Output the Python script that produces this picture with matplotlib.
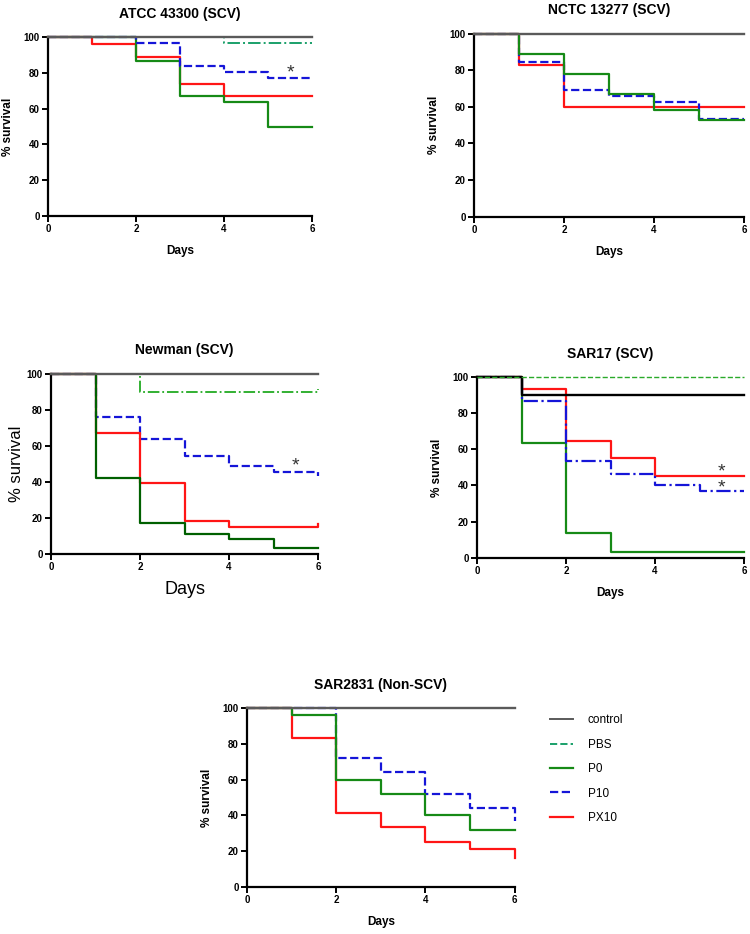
import matplotlib
matplotlib.use('Agg')
import matplotlib.pyplot as plt
from matplotlib.lines import Line2D

plt.rcParams['font.family'] = ['Liberation Sans', 'DejaVu Sans']

days = [0, 1, 2, 3, 4, 5, 6]

# survival (%) on each day interval [d, d+1); last value = value at day 6
atcc_control = [100, 100, 100, 100, 100, 100, 100]
atcc_pbs = [100, 100, 100, 100, 97, 97, 97]
atcc_p0 = [100, 100, 87, 67, 63.5, 50, 50]
atcc_p10 = [100, 100, 97, 84, 80.5, 77, 77]
atcc_px10 = [100, 96.5, 89, 74, 67, 67, 67]

nctc_control = [100, 100, 100, 100, 100, 100, 100]
nctc_p0 = [100, 89, 78, 67, 58.5, 53, 53]
nctc_p10 = [100, 84.5, 69, 66, 62.5, 53.5, 53.5]
nctc_px10 = [100, 83, 60, 60, 60, 60, 60]

newman_control = [100, 100, 100, 100, 100, 100, 100]
newman_pbs = [100, 100, 90, 90, 90, 90, 91.5]
newman_p0 = [100, 42, 17, 11, 8.5, 3, 3]
newman_p10 = [100, 76, 63.5, 54.5, 48.5, 45.5, 43]
newman_px10 = [100, 67, 39.5, 18.5, 15, 15, 16.5]

sar17_control = [100, 90, 90, 90, 90, 90, 90]
sar17_pbs = [100, 100, 100, 100, 100, 100, 100]
sar17_p0 = [100, 63.5, 13.5, 3, 3, 3, 3]
sar17_p10 = [100, 87, 53.5, 46.5, 40, 37, 37]
sar17_px10 = [100, 93.5, 64.5, 55, 45, 45, 45]

sar2831_control = [100, 100, 100, 100, 100, 100, 100]
sar2831_p0 = [100, 96, 60, 52, 40, 32, 32]
sar2831_p10 = [100, 100, 72, 64, 52, 44, 37]
sar2831_px10 = [100, 83.5, 41.5, 33.5, 25, 21, 16]

gray = '#5a5a5a'
teal = '#1aa06a'
green = '#168a16'
dkgreen = '#006000'
blue = '#1515d8'
red = '#ff1515'
star_col = '#333333'

fig = plt.figure(figsize=(7.5, 9.34), dpi=100)


def setup(ax, title, big=False):
    ax.set_xlim(0, 6)
    ax.set_ylim(0, 100)
    ax.set_xticks([0, 2, 4, 6])
    ax.set_yticks([0, 20, 40, 60, 80, 100])
    for s in ['top', 'right']:
        ax.spines[s].set_visible(False)
    for s in ['left', 'bottom']:
        ax.spines[s].set_linewidth(1.6)
    ax.tick_params(width=1.4, length=4, labelsize=7, pad=2)
    for lab in ax.get_xticklabels() + ax.get_yticklabels():
        lab.set_fontweight('bold')
    ax.set_title(title, fontsize=10, fontweight='bold', pad=14)
    if big:
        ax.set_ylabel('% survival', fontsize=12, labelpad=2)
        ax.set_xlabel('Days', fontsize=13, labelpad=6)
    else:
        ax.set_ylabel('% survival', fontsize=8.5, fontweight='bold', labelpad=7)
        ax.set_xlabel('Days', fontsize=8.5, fontweight='bold', labelpad=8)


def curve(ax, y, color, ls='-', lw=1.6, z=2):
    ax.step(days, y, where='post', color=color, ls=ls, lw=lw, clip_on=False, zorder=z)


# ATCC 43300
ax1 = fig.add_axes([0.064, 0.769, 0.352, 0.191])
setup(ax1, 'ATCC 43300 (SCV)')
curve(ax1, atcc_control, gray, lw=1.7, z=5)
curve(ax1, atcc_pbs, teal, ls='-.', lw=1.4)
curve(ax1, atcc_px10, red)
curve(ax1, atcc_p0, green)
curve(ax1, atcc_p10, blue, ls='--')
ax1.text(5.5, 80, '*', fontsize=14, color=star_col, ha='center', va='center')

# NCTC 13277
ax2 = fig.add_axes([0.632, 0.768, 0.36, 0.196])
setup(ax2, 'NCTC 13277 (SCV)')
curve(ax2, nctc_control, gray, lw=1.7, z=5)
curve(ax2, nctc_px10, red)
curve(ax2, nctc_p10, blue, ls='--')
curve(ax2, nctc_p0, green)

# Newman
ax3 = fig.add_axes([0.068, 0.407, 0.356, 0.193])
setup(ax3, 'Newman (SCV)', big=True)
curve(ax3, newman_control, gray, lw=1.7, z=5)
curve(ax3, newman_pbs, '#22aa22', ls='-.', lw=1.3)
curve(ax3, newman_p10, blue, ls='--')
curve(ax3, newman_px10, red)
curve(ax3, newman_p0, dkgreen)
ax3.text(5.5, 49, '*', fontsize=14, color=star_col, ha='center', va='center')

# SAR17
ax4 = fig.add_axes([0.636, 0.403, 0.356, 0.193])
setup(ax4, 'SAR17 (SCV)')
curve(ax4, sar17_pbs, '#2aaa2a', ls='--', lw=1.0, z=6)
curve(ax4, sar17_control, 'black', lw=1.7, z=5)
curve(ax4, sar17_p0, green)
curve(ax4, sar17_px10, red)
curve(ax4, sar17_p10, blue, ls='-.')
ax4.text(5.5, 47.5, '*', fontsize=14, color=star_col, ha='center', va='center')
ax4.text(5.5, 38.5, '*', fontsize=14, color=star_col, ha='center', va='center')

# SAR2831
ax5 = fig.add_axes([0.3293, 0.0503, 0.357, 0.1917])
setup(ax5, 'SAR2831 (Non-SCV)')
curve(ax5, sar2831_control, gray, lw=1.7, z=5)
curve(ax5, sar2831_p10, blue, ls='--')
curve(ax5, sar2831_px10, red)
curve(ax5, sar2831_p0, green)

handles = [
    Line2D([], [], color=gray, lw=1.4),
    Line2D([], [], color=teal, lw=1.4, ls='--'),
    Line2D([], [], color=green, lw=1.6),
    Line2D([], [], color=blue, lw=1.6, ls='--'),
    Line2D([], [], color=red, lw=1.6),
]
labels = ['control', 'PBS', 'P0', 'P10', 'PX10']
fig.legend(handles, labels, loc='center left', bbox_to_anchor=(0.733, 0.1765),
           frameon=False, fontsize=8.5, labelspacing=1.05, handlelength=2.0,
           handletextpad=1.2, borderpad=0, borderaxespad=0)

plt.savefig('out.png', dpi=100)
plt.close()
